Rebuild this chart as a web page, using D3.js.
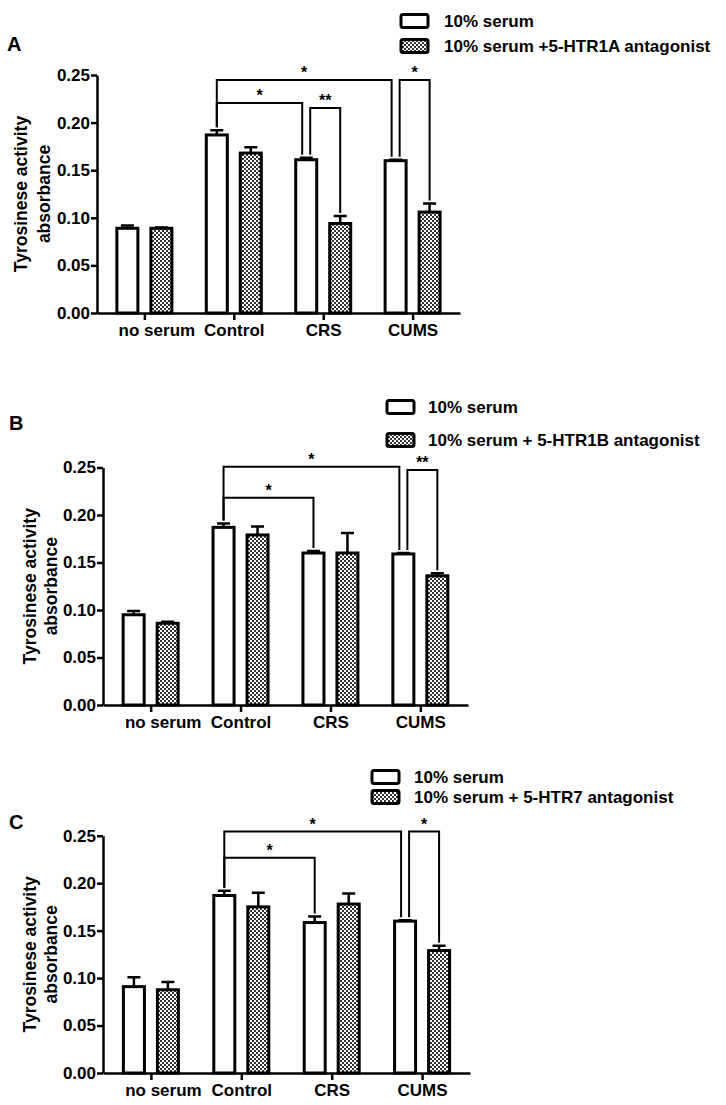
<!DOCTYPE html>
<html>
<head>
<meta charset="utf-8">
<script src="https://cdn.jsdelivr.net/npm/d3@7"></script>
<style>
  body { margin: 0; background: #fff; }
  svg text { font-family: Arial, "Liberation Sans", sans-serif; font-weight: bold; fill: #000; }
</style>
</head>
<body>
<svg id="chart" width="726" height="1105"></svg>
<script>
// categories and ticks
var groups = ["no serum", "Control", "CRS", "CUMS"];
var yTicks = [0, 0.05, 0.10, 0.15, 0.20, 0.25];
var titleLines = ["Tyrosinese activity", "absorbance"];

// panel A : 5-HTR1A
var legendA = ["10% serum", "10% serum +5-HTR1A antagonist"];
var serumA = [0.089, 0.187, 0.161, 0.160];
var serumErrA = [0.003, 0.005, 0.002, 0.001];
var antA = [0.089, 0.168, 0.094, 0.106];
var antErrA = [0.0008, 0.006, 0.008, 0.009];
// brackets: [group, series] -> [group, series]
var bracketsA = [
    {a: [1, 0], b: [3, 0], level: 0.2447, label: "*"},
    {a: [1, 0], b: [2, 0], level: 0.2206, label: "*"},
    {a: [2, 0], b: [2, 1], level: 0.2153, label: "**"},
    {a: [3, 0], b: [3, 1], level: 0.2447, label: "*"}
];

// panel B : 5-HTR1B
var legendB = ["10% serum", "10% serum + 5-HTR1B antagonist"];
var serumB = [0.095, 0.187, 0.160, 0.159];
var serumErrB = [0.004, 0.004, 0.002, 0.001];
var antB = [0.086, 0.179, 0.160, 0.136];
var antErrB = [0.0017, 0.009, 0.021, 0.0027];
var bracketsB = [
    {a: [1, 0], b: [3, 0], level: 0.2508, label: "*"},
    {a: [1, 0], b: [2, 0], level: 0.2182, label: "*"},
    {a: [3, 0], b: [3, 1], level: 0.2474, label: "**"}
];

// panel C : 5-HTR7
var legendC = ["10% serum", "10% serum + 5-HTR7 antagonist"];
var serumC = [0.091, 0.187, 0.1585, 0.160];
var serumErrC = [0.010, 0.005, 0.0065, 0.001];
var antC = [0.0877, 0.175, 0.178, 0.129];
var antErrC = [0.0081, 0.015, 0.011, 0.005];
var bracketsC = [
    {a: [1, 0], b: [3, 0], level: 0.2543, label: "*"},
    {a: [1, 0], b: [2, 0], level: 0.2269, label: "*"},
    {a: [3, 0], b: [3, 1], level: 0.2543, label: "*"}
];

var panels = [
    {letter: "A", legend: legendA, serum: serumA, serumErr: serumErrA, ant: antA, antErr: antErrA, brackets: bracketsA,
     top: 75, bottom: 313, left: 97, right: 460, letterX: 7, letterY: 51,
     legX: 401, legTextX: 444, legY: [21, 46], titleX: [21, 44]},
    {letter: "B", legend: legendB, serum: serumB, serumErr: serumErrB, ant: antB, antErr: antErrB, brackets: bracketsB,
     top: 467.5, bottom: 705, left: 103, right: 468, letterX: 9, letterY: 430,
     legX: 387, legTextX: 428, legY: [407, 440], titleX: [30, 51]},
    {letter: "C", legend: legendC, serum: serumC, serumErr: serumErrC, ant: antC, antErr: antErrC, brackets: bracketsC,
     top: 835.7, bottom: 1073, left: 103, right: 470, letterX: 9, letterY: 829,
     legX: 372, legTextX: 414, legY: [777, 797], titleX: [30, 51]}
];

var svg = d3.select("#chart");

// checker pattern for antagonist bars
var pat = svg.append("defs").append("pattern")
    .attr("id", "checks")
    .attr("patternUnits", "userSpaceOnUse")
    .attr("width", 4)
    .attr("height", 4);
pat.append("rect").attr("width", 4).attr("height", 4).attr("fill", "#fff");
pat.append("rect").attr("width", 2).attr("height", 2).attr("fill", "#333");
pat.append("rect").attr("x", 2).attr("y", 2).attr("width", 2).attr("height", 2).attr("fill", "#333");

var fills = ["#fff", "url(#checks)"];

function drawPanel(p) {
    var g = svg.append("g");
    var y = d3.scaleLinear().domain([0, 0.25]).range([p.bottom, p.top]);
    var x = d3.scalePoint().domain(groups).range([p.left, p.right]).padding(0.53);
    var xs = d3.scaleBand().domain([0, 1]).range([-27.5, 27.5]).paddingInner(0.382);

    var rows = [];
    groups.forEach(function(name, i) {
        rows.push({g: name, s: 0, v: p.serum[i], e: p.serumErr[i]});
        rows.push({g: name, s: 1, v: p.ant[i], e: p.antErr[i]});
    });

    function cx(d) { return x(d.g) + xs(d.s) + xs.bandwidth() / 2; }

    // bars
    g.selectAll("rect.bar").data(rows).enter().append("rect")
        .attr("class", "bar")
        .attr("x", function(d) { return x(d.g) + xs(d.s); })
        .attr("y", function(d) { return y(d.v); })
        .attr("width", xs.bandwidth())
        .attr("height", function(d) { return y(0) - y(d.v); })
        .attr("fill", function(d) { return fills[d.s]; })
        .attr("stroke", "#000")
        .attr("stroke-width", 3);

    // error bars (upper only)
    g.selectAll("path.err").data(rows).enter().append("path")
        .attr("class", "err")
        .attr("d", function(d) {
            var c = cx(d), t = y(d.v + d.e);
            return "M" + c + "," + y(d.v) + "V" + t + "M" + (c - 6.5) + "," + t + "H" + (c + 6.5);
        })
        .attr("fill", "none")
        .attr("stroke", "#000")
        .attr("stroke-width", 2.5);

    // axes
    var ya = g.append("g")
        .attr("transform", "translate(" + p.left + ",0)")
        .call(d3.axisLeft(y).tickValues(yTicks).tickFormat(d3.format(".2f")).tickSize(6).tickSizeOuter(0).tickPadding(1));
    var xa = g.append("g")
        .attr("transform", "translate(0," + p.bottom + ")")
        .call(d3.axisBottom(x).tickSize(7).tickSizeOuter(0).tickPadding(4));
    [ya, xa].forEach(function(a) {
        a.selectAll("path, line").attr("stroke", "#000").attr("stroke-width", 2.5);
        a.selectAll("text").attr("font-family", null).attr("fill", "#000");
    });
    ya.selectAll("text").style("font-size", "17px");
    xa.selectAll("text").style("font-size", "17px")
        .attr("dx", function(d, i) { return i === 0 ? 12 : 0; });

    // y title
    titleLines.forEach(function(t, i) {
        g.append("text")
            .attr("transform", "translate(" + p.titleX[i] + "," + (p.top + p.bottom) / 2 + ") rotate(-90)")
            .attr("text-anchor", "middle")
            .attr("dy", "0.35em")
            .style("font-size", "17.5px")
            .text(t);
    });

    // panel letter
    g.append("text")
        .attr("x", p.letterX)
        .attr("y", p.letterY)
        .style("font-size", "20px")
        .text(p.letter);

    // legend
    p.legend.forEach(function(t, i) {
        g.append("rect")
            .attr("x", p.legX)
            .attr("y", p.legY[i] - 6.5)
            .attr("width", 27)
            .attr("height", 13)
            .attr("rx", 2)
            .attr("fill", fills[i])
            .attr("stroke", "#000")
            .attr("stroke-width", 3);
        g.append("text")
            .attr("x", p.legTextX)
            .attr("y", p.legY[i])
            .attr("dy", "0.35em")
            .style("font-size", "17px")
            .text(t);
    });

    // significance brackets
    function barOf(ref) { return rows[ref[0] * 2 + ref[1]]; }
    function same(r1, r2) { return r1[0] === r2[0] && r1[1] === r2[1]; }
    p.brackets.forEach(function(br) {
        var shiftA = p.brackets.some(function(o) { return o !== br && same(o.b, br.a); }) ? 4 : 0;
        var shiftB = p.brackets.some(function(o) { return o !== br && same(o.a, br.b); }) ? -4 : 0;
        var da = barOf(br.a), db = barOf(br.b);
        var x1 = cx(da) + shiftA, x2 = cx(db) + shiftB;
        var ly = y(br.level);
        g.append("path")
            .attr("d", "M" + x1 + "," + (y(da.v + da.e) - 3) + "V" + ly + "H" + x2 + "V" + (y(db.v + db.e) - 3))
            .attr("fill", "none")
            .attr("stroke", "#000")
            .attr("stroke-width", 2);
        g.append("text")
            .attr("x", (x1 + x2) / 2)
            .attr("y", ly - 2)
            .attr("text-anchor", "middle")
            .style("font-size", "16px")
            .text(br.label);
    });
}

panels.forEach(drawPanel);
</script>
</body>
</html>
